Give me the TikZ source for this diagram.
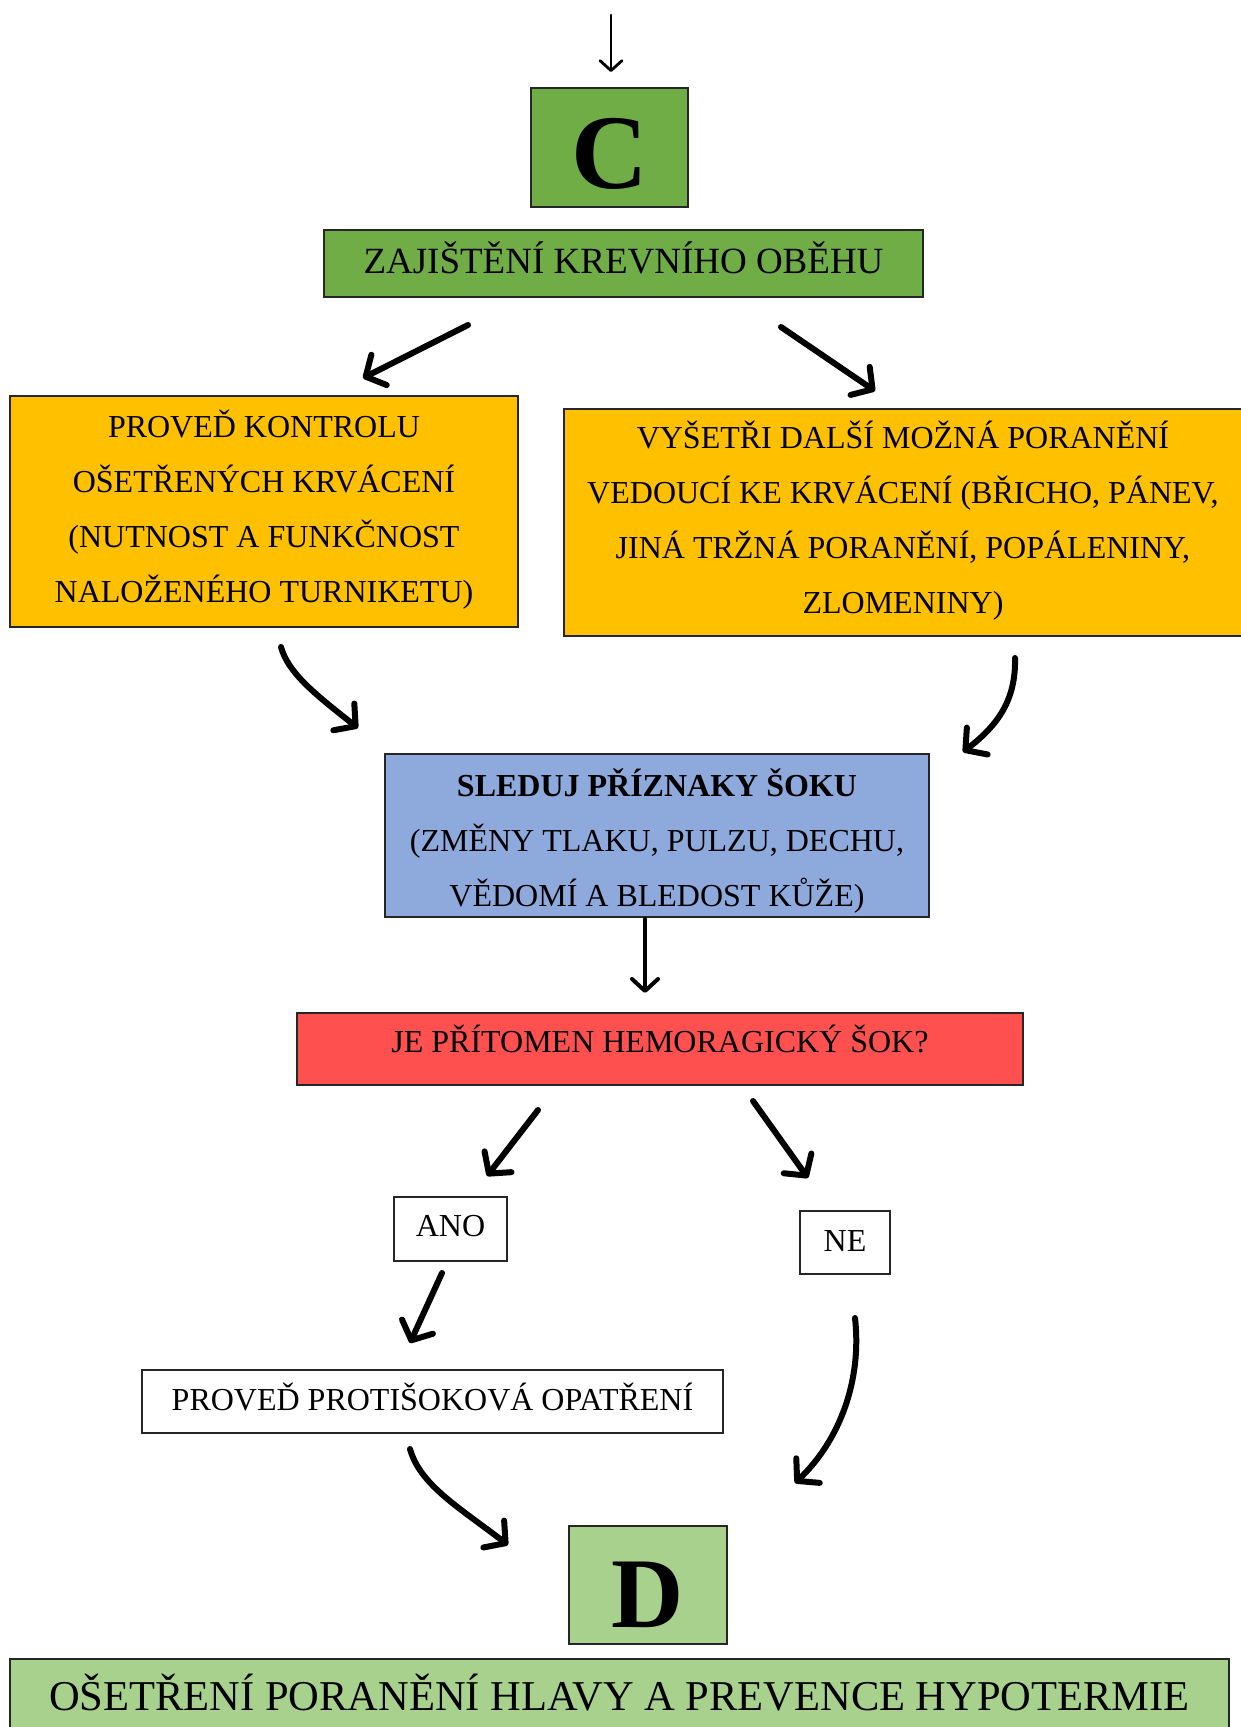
\documentclass[tikz,border=0pt]{standalone}
\usepackage{fontspec}
\setmainfont{Liberation Serif}
\usetikzlibrary{arrows.meta}
\definecolor{cgreen}{HTML}{70AD47}
\definecolor{lgreen}{HTML}{A9D18E}
\definecolor{cyellow}{HTML}{FFC000}
\definecolor{cblue}{HTML}{8EA9DB}
\definecolor{cred}{HTML}{FF5050}
\begin{document}
\begin{tikzpicture}[x=1pt,y=-1pt,
  box/.style={draw=black!85, line width=1.3pt, inner sep=0pt, align=center,
    font=\fontsize{32}{55}\selectfont},
  letter/.style={box, font=\fontsize{106}{110}\selectfont\bfseries},
  heavy/.style={line width=6pt, line cap=round,
    -{Straight Barb[length=15pt,width=34pt,round]}},
  medium/.style={line width=4pt, line cap=round,
    -{Straight Barb[length=12pt,width=26pt,round]}},
  light/.style={line width=2.8pt, line cap=round,
    -{Straight Barb[length=10pt,width=22pt,round]}}]
\useasboundingbox (0,0) rectangle (1240,1727);

% boxes
\node[letter, fill=cgreen, minimum width=157pt, minimum height=119pt,
  text height=82pt, text depth=0pt] (C) at (609.5,147.5) {C};
\node[box, fill=cgreen, minimum width=599pt, minimum height=67pt,
  font=\fontsize{37}{40}\selectfont, text height=30pt, text depth=10.6pt] (krev) at (623.5,263.5)
  {ZAJIŠTĚNÍ KREVNÍHO OBĚHU};
\node[box, fill=cyellow, minimum width=508pt, minimum height=231pt] (kontrola) at (264,511.5)
  {PROVEĎ KONTROLU\\OŠETŘENÝCH KRVÁCENÍ\\(NUTNOST A FUNKČNOST\\NALOŽENÉHO TURNIKETU)\rule[-11pt]{0pt}{1pt}};
\node[box, fill=cyellow, minimum width=678pt, minimum height=227pt] (vysetri) at (903,522.5)
  {VYŠETŘI DALŠÍ MOŽNÁ PORANĚNÍ\\VEDOUCÍ KE KRVÁCENÍ (BŘICHO, PÁNEV,\\JINÁ TRŽNÁ PORANĚNÍ, POPÁLENINY,\\ZLOMENINY)\rule[-11pt]{0pt}{1pt}};
\node[box, fill=cblue, minimum width=544pt, minimum height=163pt] (sok) at (657,835.5)
  {\rule{0pt}{38pt}\textbf{SLEDUJ PŘÍZNAKY ŠOKU}\\(ZMĚNY TLAKU, PULZU, DECHU,\\VĚDOMÍ A BLEDOST KŮŽE)};
\node[box, fill=cred, minimum width=726pt, minimum height=72pt,
  text height=24pt, text depth=17pt] (otazka) at (660,1049)
  {JE PŘÍTOMEN HEMORAGICKÝ ŠOK?};
\node[box, fill=white, minimum width=113pt, minimum height=64pt,
  text height=24pt, text depth=9.8pt] (ano) at (450.5,1229) {ANO};
\node[box, fill=white, minimum width=90pt, minimum height=63pt,
  text height=24pt, text depth=6pt] (ne) at (845,1242.5) {NE};
\node[box, fill=white, minimum width=581pt, minimum height=63pt,
  text height=26pt, text depth=9pt] (opatreni) at (432.5,1401.5)
  {PROVEĎ PROTIŠOKOVÁ OPATŘENÍ};
\node[letter, fill=lgreen, minimum width=158pt, minimum height=118pt,
  font=\fontsize{100}{104}\selectfont\bfseries, text height=84pt, text depth=0pt] (D) at (648,1585) {D};
\node[box, fill=lgreen, minimum width=1219pt, minimum height=81pt,
  font=\fontsize{42.5}{46}\selectfont, text height=32pt, text depth=11pt] (hlava) at (619.5,1699.5)
  {OŠETŘENÍ PORANĚNÍ HLAVY A PREVENCE HYPOTERMIE};

% arrow end points
\coordinate (inS) at (611,15);   \coordinate (inE) at (611,72);
\coordinate (lS) at (468,325);   \coordinate (lE) at (363,378);
\coordinate (rS) at (781,327);   \coordinate (rE) at (875,391);
\coordinate (kS) at (281,647);   \coordinate (kE) at (358,728);
\coordinate (vS) at (1015,658);  \coordinate (vE) at (963,752);
\coordinate (sS) at (645,919);   \coordinate (sE) at (645,993);
\coordinate (aS) at (538,1110);  \coordinate (aE) at (487,1176);
\coordinate (nS) at (753,1101);  \coordinate (nE) at (808,1178);
\coordinate (oS) at (442,1273);  \coordinate (oE) at (410,1343);
\coordinate (pS) at (410,1449);  \coordinate (pE) at (508,1545);
\coordinate (eS) at (855,1318);  \coordinate (eE) at (795,1483);

% connectors
\draw[light] (inS) -- (inE);
\draw[heavy] (lS) -- (lE);
\draw[heavy] (rS) -- (rE);
\draw[heavy] (kS) .. controls (288,672) and (312,692) .. (kE);
\draw[heavy] (vS) .. controls (1016,700) and (998,725) .. (vE);
\draw[medium] (sS) -- (sE);
\draw[heavy] (aS) -- (aE);
\draw[heavy] (nS) -- (nE);
\draw[heavy] (oS) -- (oE);
\draw[heavy] (pS) .. controls (420,1485) and (460,1508) .. (pE);
\draw[heavy] (eS) .. controls (862,1380) and (840,1440) .. (eE);
\end{tikzpicture}
\end{document}
